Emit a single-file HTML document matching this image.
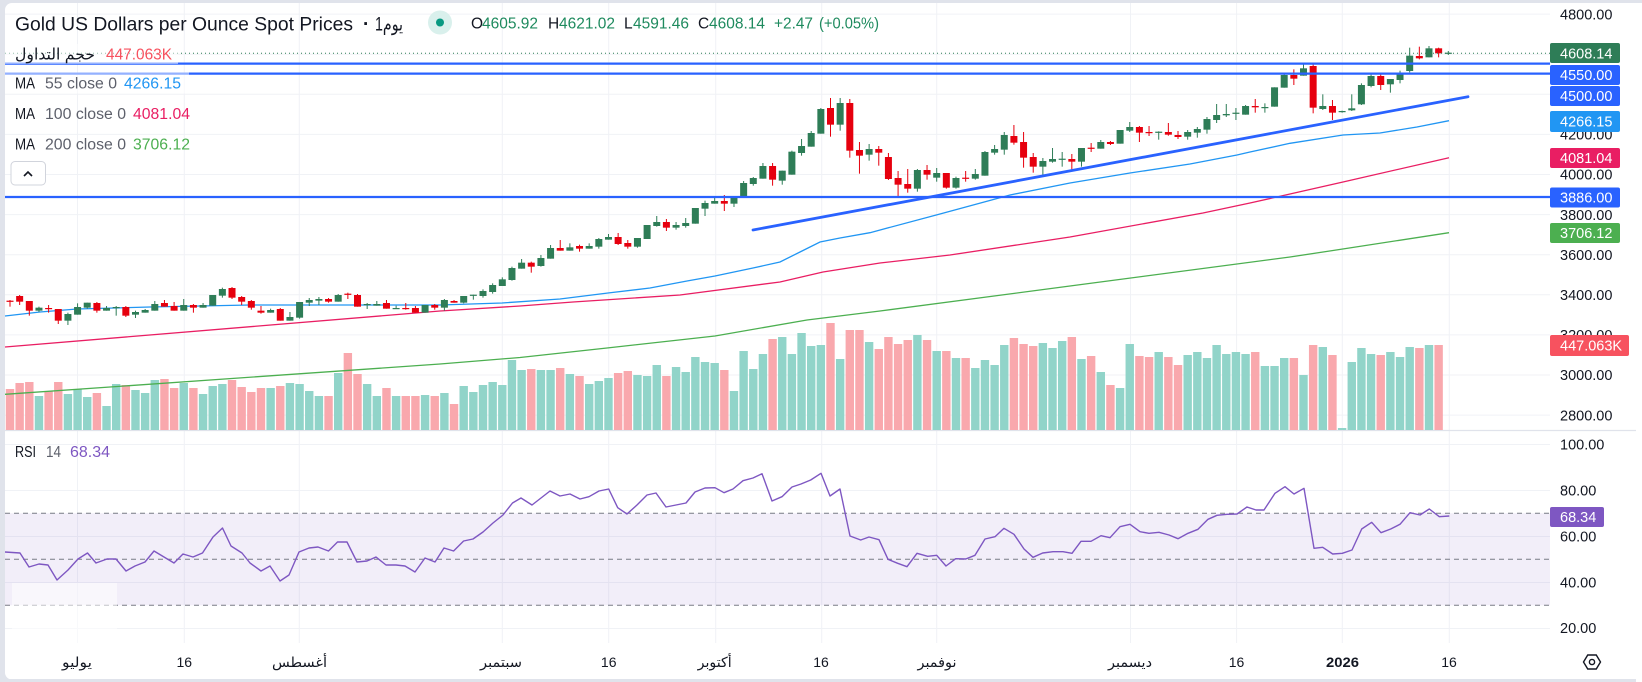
<!DOCTYPE html>
<html><head><meta charset="utf-8"><style>
html,body{margin:0;padding:0;background:#fff;width:1642px;height:682px;overflow:hidden}
svg{display:block}
text{font-family:"Liberation Sans","DejaVu Sans",sans-serif}
</style></head><body>
<svg id="s" width="1642" height="682" viewBox="0 0 1642 682" xmlns="http://www.w3.org/2000/svg">
<rect x="0" y="0" width="1642" height="682" fill="#e0e3eb"/>
<rect x="5" y="3" width="1645" height="676.5" rx="7" fill="#fff"/>
<rect x="1636" y="679" width="6" height="3" fill="#fff"/>

<!-- grid -->
<g stroke="#f0f2f6" stroke-width="1">
<line x1="5" x2="1550" y1="14.1" y2="14.1"/><line x1="5" x2="1550" y1="54.2" y2="54.2"/>
<line x1="5" x2="1550" y1="94.3" y2="94.3"/><line x1="5" x2="1550" y1="134.4" y2="134.4"/>
<line x1="5" x2="1550" y1="174.5" y2="174.5"/><line x1="5" x2="1550" y1="214.6" y2="214.6"/>
<line x1="5" x2="1550" y1="254.7" y2="254.7"/><line x1="5" x2="1550" y1="294.8" y2="294.8"/>
<line x1="5" x2="1550" y1="334.9" y2="334.9"/><line x1="5" x2="1550" y1="375" y2="375"/>
<line x1="5" x2="1550" y1="415.1" y2="415.1"/>
<line x1="5" x2="1550" y1="444.5" y2="444.5"/><line x1="5" x2="1550" y1="490.5" y2="490.5"/>
<line x1="5" x2="1550" y1="536.5" y2="536.5"/><line x1="5" x2="1550" y1="582.5" y2="582.5"/>
<line x1="5" x2="1550" y1="628.5" y2="628.5"/>
<g id="vg"></g>
</g>
<line x1="0" x2="1636" y1="430.5" y2="430.5" stroke="#e0e3eb" stroke-width="1.3"/>

<!-- RSI band -->
<rect x="5" y="513.3" width="1545" height="92" fill="#7e57c2" fill-opacity="0.1"/>
<g stroke="#787b86" stroke-width="1" stroke-dasharray="5 4">
<line x1="5" x2="1550" y1="513.3" y2="513.3"/>
<line x1="5" x2="1550" y1="559.3" y2="559.3"/>
<line x1="5" x2="1550" y1="605.3" y2="605.3"/>
</g>
<rect x="12" y="583" width="105" height="63" fill="#fff" fill-opacity="0.55"/>

<!-- volume -->
<g id="vol"></g>

<!-- MAs -->
<polyline fill="none" stroke="#4caf50" stroke-width="1.3" points="5,394.3 440,364 520,357.5 607,348 715,336 807,320 880,311 1070,286 1290,257 1333,250.5 1449,232.7"/>
<polyline fill="none" stroke="#e91e63" stroke-width="1.3" points="5,347 440,311 520,306 573,302 680,295 780,282 823,272 880,263 950,255 1070,237 1203,213 1250,203 1290,194 1343,182 1449,157.7"/>
<polyline fill="none" stroke="#2196f3" stroke-width="1.3" points="5,316 40,312 77,309 150,307 250,305 350,305 440,305 502,303 560,299 608,293 650,288 687,281 715,276 753,268 780,262 800,252 820,242 840,238 870,232.7 940,214 1010,195 1070,183 1130,173 1190,164 1237,155 1250,152 1290,143.3 1343,135 1380,133 1417,127 1449,120.7"/>

<!-- candles -->
<g id="cdl"></g>

<!-- drawings -->
<line x1="5" x2="1550" y1="53.3" y2="53.3" stroke="#2e7d57" stroke-width="1" stroke-dasharray="1 3"/>
<g stroke="#2962ff" stroke-width="2.2">
<line x1="5" x2="1550" y1="63.6" y2="63.6"/>
<line x1="5" x2="1550" y1="73.6" y2="73.6"/>
<line x1="5" x2="1550" y1="197" y2="197"/>
</g>
<line x1="753" y1="230" x2="1468" y2="96.7" stroke="#2962ff" stroke-width="2.8" stroke-linecap="round"/>

<!-- RSI line -->
<polyline fill="none" stroke="#7e57c2" stroke-width="1.4" stroke-linejoin="round" points="5,552 20,553 29,567 39,564 48,565 57,580 68,570 78,559 87.5,553 96,563 107,559 116,559 126,571 135,566 145,562 154,551 164,557 174,563 183,554 193,557 202.5,553 213,537 222.5,528 231,546 242,553 250,563 261,571 270,566 280,581 289,575 299,552 309,548 318,547 328.5,551 337.5,542 347,542 357,562 367,561 376,557 386,565 396,565 405,566 415,572 425,558 435,562 444,548 453.6,551 463.6,541 473,539 483,532 493,523 503,515 512.5,503 521,498 532,505 541,498 550,491 560,496 570,494 580,499 589,496.7 599,491 608.7,489 617.7,507.7 627,514 637,505 647,495 656,493 666,507 676,505 686,503 695,492 705,488 715,487.7 724,492.7 733,489 743,480.7 753,478 762,473.7 772,501 782,496.7 792,487 801,484 810.7,480 821,473.3 830,496 840,489 850,536 860.7,540 869,537 879,539.7 888,559.3 897.7,563.3 907,566.7 917,553.3 927.7,556.3 936.7,555.3 946,566 955.7,558.7 965.7,559 975,555.3 985,539 995,536.7 1004,528.3 1014,534.3 1024,549 1033,557.3 1042.7,553 1053,551.7 1063,551.7 1072,553.3 1081,541.3 1091,541.3 1101,535.7 1110,537.7 1120,526.7 1130,524.3 1140,531.7 1149,533.3 1159,532.3 1169,535 1178,538.7 1188,533.3 1198,529.3 1208,519.3 1217,515.3 1227,514.3 1237,514 1247,507 1256,510 1264,510 1275,493.3 1285,486.7 1294,494 1304,488.3 1314,548.3 1322.7,547.3 1332.7,554 1342.3,553.3 1352,550 1361.7,529 1371.7,522.3 1381,532.7 1390.7,529 1400,524.3 1410,512.7 1420,515 1429.3,509 1439.3,516.7 1449.3,516"/>

<!-- legend backgrounds -->
<rect x="5" y="44" width="173" height="20" fill="#fff" fill-opacity="0.5"/>
<rect x="5" y="72.5" width="184" height="21" fill="#fff" fill-opacity="0.5"/>

<!-- header -->
<text x="15" y="30.7" font-size="19" fill="#131722" textLength="338" lengthAdjust="spacingAndGlyphs">Gold US Dollars per Ounce Spot Prices</text>
<text x="363" y="30" font-size="19" fill="#131722" font-weight="bold">·</text>
<text x="375" y="30.7" font-size="19" fill="#131722" textLength="28" lengthAdjust="spacingAndGlyphs">1يوم</text>
<circle cx="440" cy="22.5" r="12" fill="#d9f0ec"/>
<circle cx="440" cy="22.5" r="4" fill="#089981"/>
<g font-size="15.5">
<text x="471" y="28.3" fill="#131722">O</text><text x="482" y="28.3" fill="#1e8a5e" textLength="56" lengthAdjust="spacingAndGlyphs">4605.92</text>
<text x="548" y="28.3" fill="#131722">H</text><text x="559" y="28.3" fill="#1e8a5e" textLength="56" lengthAdjust="spacingAndGlyphs">4621.02</text>
<text x="624" y="28.3" fill="#131722">L</text><text x="633" y="28.3" fill="#1e8a5e" textLength="56" lengthAdjust="spacingAndGlyphs">4591.46</text>
<text x="698" y="28.3" fill="#131722">C</text><text x="709" y="28.3" fill="#1e8a5e" textLength="56" lengthAdjust="spacingAndGlyphs">4608.14</text>
<text x="774" y="28.3" fill="#1e8a5e" textLength="39" lengthAdjust="spacingAndGlyphs">+2.47</text>
<text x="819" y="28.3" fill="#1e8a5e" textLength="60" lengthAdjust="spacingAndGlyphs">(+0.05%)</text>
</g>

<!-- legend -->
<g font-size="15.5">
<text x="15" y="59.5" fill="#131722" textLength="80" lengthAdjust="spacingAndGlyphs">حجم التداول</text>
<text x="106" y="59.5" fill="#f7525f" textLength="66" lengthAdjust="spacingAndGlyphs">447.063K</text>
<text x="15" y="88.7" fill="#131722" textLength="20" lengthAdjust="spacingAndGlyphs">MA</text>
<text x="45" y="88.7" fill="#5d606b" textLength="72" lengthAdjust="spacingAndGlyphs">55 close 0</text>
<text x="124" y="88.7" fill="#2196f3" textLength="57" lengthAdjust="spacingAndGlyphs">4266.15</text>
<text x="15" y="119" fill="#131722" textLength="20" lengthAdjust="spacingAndGlyphs">MA</text>
<text x="45" y="119" fill="#5d606b" textLength="81" lengthAdjust="spacingAndGlyphs">100 close 0</text>
<text x="133" y="119" fill="#e91e63" textLength="57" lengthAdjust="spacingAndGlyphs">4081.04</text>
<text x="15" y="149.5" fill="#131722" textLength="20" lengthAdjust="spacingAndGlyphs">MA</text>
<text x="45" y="149.5" fill="#5d606b" textLength="81" lengthAdjust="spacingAndGlyphs">200 close 0</text>
<text x="133" y="149.5" fill="#4caf50" textLength="57" lengthAdjust="spacingAndGlyphs">3706.12</text>
<text x="15" y="457" fill="#131722" textLength="21" lengthAdjust="spacingAndGlyphs">RSI</text>
<text x="46" y="457" fill="#5d606b" textLength="15" lengthAdjust="spacingAndGlyphs">14</text>
<text x="70" y="457" fill="#7e57c2" textLength="40" lengthAdjust="spacingAndGlyphs">68.34</text>
</g>
<rect x="11" y="161.5" width="34.5" height="23.5" rx="4" fill="#fff" stroke="#d1d4dc" stroke-width="1"/>
<polyline points="24,176 28,172 32,176" fill="none" stroke="#131722" stroke-width="1.6"/>

<!-- price scale -->
<g font-size="14.5" fill="#131722">
<text x="1560" y="19.3">4800.00</text><text x="1560" y="59.4">4600.00</text>
<text x="1560" y="99.5">4400.00</text><text x="1560" y="139.6">4200.00</text>
<text x="1560" y="179.7">4000.00</text><text x="1560" y="219.8">3800.00</text>
<text x="1560" y="259.9">3600.00</text><text x="1560" y="300">3400.00</text>
<text x="1560" y="340.1">3200.00</text><text x="1560" y="380.2">3000.00</text>
<text x="1560" y="420.3">2800.00</text>
<text x="1560" y="449.5">100.00</text><text x="1560" y="495.5">80.00</text>
<text x="1560" y="541.5">60.00</text><text x="1560" y="587.5">40.00</text>
<text x="1560" y="633">20.00</text>
</g>
<g font-size="14.5" fill="#fff">
<rect x="1550" y="43" width="70" height="20" rx="2" fill="#2e7d57"/><text x="1560" y="58.3">4608.14</text>
<rect x="1550" y="65" width="70" height="20" rx="2" fill="#2962ff"/><text x="1560" y="80.2">4550.00</text>
<rect x="1550" y="86" width="70" height="20" rx="2" fill="#2962ff"/><text x="1560" y="101.2">4500.00</text>
<rect x="1550" y="111" width="70" height="21" rx="2" fill="#2196f3"/><text x="1560" y="126.7">4266.15</text>
<rect x="1550" y="148" width="70" height="20" rx="2" fill="#e91e63"/><text x="1560" y="163.2">4081.04</text>
<rect x="1550" y="187.5" width="70" height="20" rx="2" fill="#2962ff"/><text x="1560" y="202.7">3886.00</text>
<rect x="1550" y="223" width="70" height="20" rx="2" fill="#4caf50"/><text x="1560" y="238.2">3706.12</text>
<rect x="1550" y="335" width="79" height="21" rx="2" fill="#f7525f"/><text x="1560" y="350.7">447.063K</text>
<rect x="1550" y="507" width="54" height="20" rx="2" fill="#7e57c2"/><text x="1560" y="522.2">68.34</text>
</g>

<!-- time axis -->
<g font-size="14" fill="#131722" text-anchor="middle">
<text x="77" y="667" textLength="30" lengthAdjust="spacingAndGlyphs">يوليو</text>
<text x="184.3" y="667">16</text>
<text x="299.5" y="667" textLength="55" lengthAdjust="spacingAndGlyphs">أغسطس</text>
<text x="501" y="667" textLength="42" lengthAdjust="spacingAndGlyphs">سبتمبر</text>
<text x="608.7" y="667">16</text>
<text x="714.7" y="667" textLength="34" lengthAdjust="spacingAndGlyphs">أكتوبر</text>
<text x="821" y="667">16</text>
<text x="937" y="667" textLength="39" lengthAdjust="spacingAndGlyphs">نوفمبر</text>
<text x="1130" y="667" textLength="44" lengthAdjust="spacingAndGlyphs">ديسمبر</text>
<text x="1236.5" y="667">16</text>
<text x="1342.5" y="667" font-weight="bold" textLength="33" lengthAdjust="spacingAndGlyphs">2026</text>
<text x="1449" y="667">16</text>
</g>
<polygon points="1583.5,662 1587.75,655 1596.25,655 1600.5,662 1596.25,669 1587.75,669" fill="none" stroke="#131722" stroke-width="1.4"/>
<circle cx="1592" cy="662" r="2.6" fill="none" stroke="#131722" stroke-width="1.4"/>
<rect x="0" y="679" width="1636" height="1.4" fill="#e0e3eb"/>
</svg>
<script>
(function(){
var G="#2e7d57",R="#e6000e";
var X=function(i){return 10+9.653*i;};
var segs=[
[250,0,[[0,152,155,150,170],[0,138,155,135,165],[0,153,182,153,197],[1,173,182,170,186],[0,174,177,165,188],[0,177,212,177,222],[1,192,212,188,225],[1,171,194,160,194],[1,158,173,158,176],[0,159,182,156,188],[1,174,182,168,182],[1,171,173,168,197],[0,171,197,168,201],[1,186,194,182,204],[1,180,188,177,188],[1,162,182,153,182],[0,159,170,150,170],[0,168,182,156,182],[1,165,182,147,182],[0,165,173,162,188],[1,165,173,159,173],[1,135,167,135,167],[1,117,137,113,143],[0,114,143,111,147],[0,141,155,138,165],[0,153,173,150,179],[0,182,188,168,191],[1,180,188,176,188],[0,177,212,174,212],[1,201,212,186,212],[1,156,203,156,206],[1,150,158,144,168],[1,147,152,141,165],[0,147,155,144,158],[1,135,155,132,155],[0,131,133,128,147],[0,135,170,132,170],[1,162,164,159,177],[1,162,167,153,167],[0,159,176,150,176],[1,174,176,167,176],[0,174,176,159,179],[0,174,188,168,188],[1,165,188,165,188],[0,165,173,162,179],[1,150,173,147,182],[0,153,158,150,158],[1,138,158,138,160],[1,134,136,134,149],[1,123,138,118,143],[1,105,126,100,131],[1,88,108,82,108],[1,54,90,50,92]]],
[80,53,[[1,548,566,537,566],[0,548,560,545,578],[1,534,558,525,560],[1,504,536,495,536],[0,504,512,480,512],[1,502,512,490,512],[0,498,506,494,515],[1,498,506,490,506],[1,477,500,474,506],[1,471,479,462,479],[0,471,492,459,495],[0,489,500,480,506],[1,474,500,474,503],[1,435,477,435,477],[1,426,438,408,440],[0,426,443,417,453],[1,435,443,426,449],[1,429,438,414,443],[1,384,431,384,431],[1,369,386,362,408],[1,363,371,353,371],[0,363,371,345,393],[1,350,371,350,381],[1,309,353,303,353],[1,294,312,291,317],[1,258,296,249,296],[0,258,299,249,317],[1,272,302,272,314],[1,215,284,212,284],[1,198,219,177,227],[1,159,200,153,200],[1,87,161,84,161],[0,84,134,54,170],[1,69,134,54,152],[0,69,212,57,233],[0,210,227,186,281],[1,207,224,192,242],[0,207,218,198,257]]],
[40,91,[[0,351,417,339,420],[0,414,434,393,470],[0,432,446,387,458],[1,390,446,387,455],[0,390,404,375,419],[1,399,413,384,425],[0,399,443,399,446],[1,414,443,410,446],[0,413,415,393,425],[1,402,416,387,419],[1,336,407,333,407],[1,327,338,315,344],[1,285,329,276,344],[0,288,308,255,314],[0,306,353,276,383],[0,351,380,339,398],[1,363,380,354,405],[1,357,365,324,368],[1,356,358,336,380],[0,357,365,342,389],[1,324,365,324,380],[0,323,325,309,336],[1,306,326,300,326],[0,306,312,303,315],[1,270,311,270,311],[1,261,272,246,276],[0,261,278,258,306],[0,276,278,258,288],[1,275,277,274,299],[0,276,284,249,287],[0,285,291,273,297],[1,276,290,270,299],[1,267,278,261,293],[1,237,269,231,281],[1,225,240,192,249],[1,222,226,192,231],[1,218,220,204,240],[1,198,224,195,224]]],
[0,129,[[0,318,322,297,338],[1,321,323,310,338],[1,262,320,262,320],[1,225,263,222,263],[0,225,236,208,255],[1,205,227,193,227],[0,198,323,193,340],[1,318,327,283,330],[0,318,338,300,360],[1,333,336,332,338],[1,325,331,283,333],[1,255,313,250,315],[1,228,258,222,262],[0,228,255,222,270],[1,237,253,237,278],[1,218,240,212,250],[1,167,213,143,217],[0,168,175,140,178],[1,145,172,138,172],[0,145,160,143,172],[1,158,160,153,165]]]
];
var up=[],c="";
segs.forEach(function(s){var off=s[0],i0=s[1];s[2].forEach(function(d,k){
 var i=i0+k,x=X(i),col=d[0]?G:R;up[i]=d[0];
 var bt=off+d[1]/3,bb=off+d[2]/3,wt=off+d[3]/3,wb=off+d[4]/3;
 if(bb-bt<1.2)bb=bt+1.2;
 c+='<rect x="'+(x-0.5).toFixed(2)+'" y="'+wt.toFixed(2)+'" width="1" height="'+(wb-wt).toFixed(2)+'" fill="'+col+'"/>';
 c+='<rect x="'+(x-3.5).toFixed(2)+'" y="'+bt.toFixed(2)+'" width="7" height="'+(bb-bt).toFixed(2)+'" fill="'+col+'"/>';
});});
document.getElementById("cdl").innerHTML=c;
var V=[389,383,382,396,391,382,394,389,397,393,406,384,385,390,393,380,379,388,383,388,394,386,384,380,387,392,388,388,386,383,384,391,396,396,373,353,374,384,396,388,396,396,396,395,396,393,404,386,392,385,382,385,360,370,
369,370,370,368,374,376,384,381,378,373,371,375,376,365,376,367,372,357,362,363,370,391,351,369,354,339,337,354,333,346,345,323,359,330,330,342,349,
337,344,340,335,340,351,351,358,358,368,360,365,345,338,344,346,343,348,341,337,359,356,372,385,388,344,356,357,352,357,365,355,352,358,345,354,352,354,
352,366,366,358,358,375,345,347,355,428,362,348,354,355,352,357,347,348,345,345];
var v="";
for(var i=0;i<V.length;i++){var x=X(i);v+='<rect x="'+(x-4.2).toFixed(2)+'" y="'+V[i]+'" width="8.4" height="'+(430-V[i])+'" fill="'+(up[i]?"#91d4c9":"#f9a8ad")+'"/>';}
document.getElementById("vol").innerHTML=v;
var gx=[77.5,184.3,299.3,502.3,608.7,715.7,821.7,936.7,1130.5,1236.6,1342.3,1449.3],g="";
gx.forEach(function(x){g+='<line x1="'+x+'" x2="'+x+'" y1="3" y2="643"/>';});
document.getElementById("vg").innerHTML=g;
})();
</script>
</body></html>
